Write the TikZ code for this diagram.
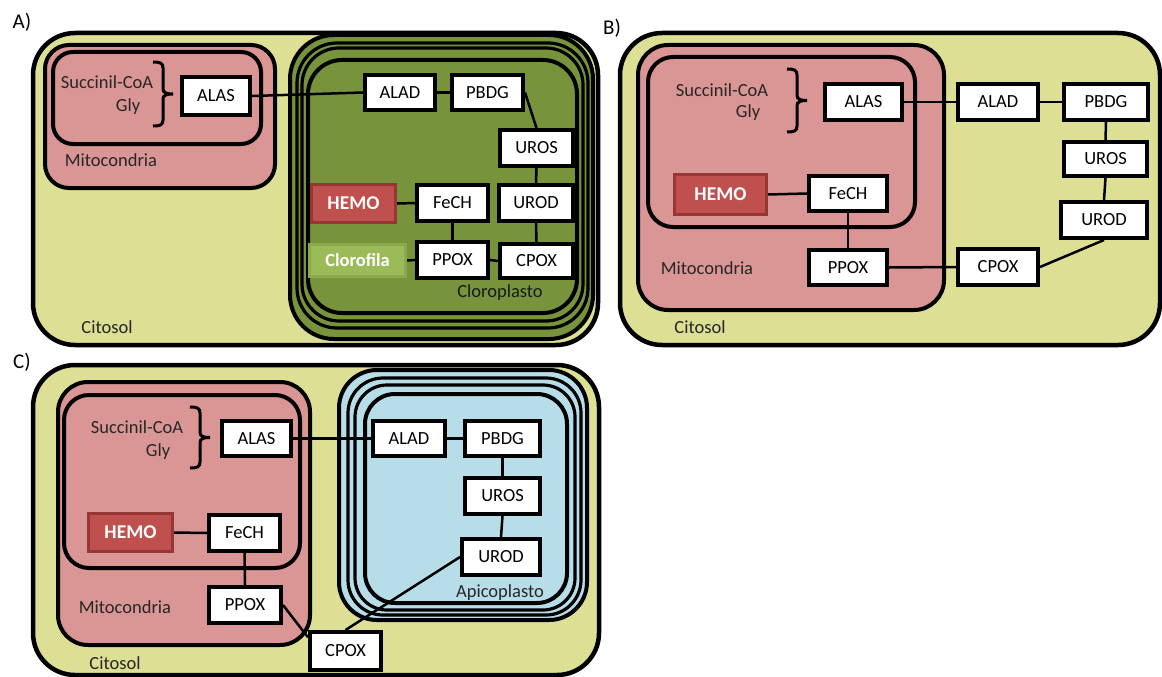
\documentclass[tikz,border=0pt]{standalone}
\usepackage{fontspec}
\setmainfont{Carlito}
\pgfdeclarelayer{back}\pgfdeclarelayer{mid}
\pgfsetlayers{back,mid,main}
\definecolor{cyto}{RGB}{221,223,148}
\definecolor{mito}{RGB}{217,150,148}
\definecolor{chlo}{RGB}{119,147,60}
\definecolor{apico}{RGB}{183,221,232}
\definecolor{hemofill}{RGB}{192,80,77}
\definecolor{hemoline}{RGB}{150,55,53}
\definecolor{clofill}{RGB}{155,187,89}
\definecolor{cloline}{RGB}{138,168,78}
\tikzset{
 enz/.style={draw=black, line width=4pt, fill=white, inner sep=0pt, font=\fontsize{18.5}{21}\selectfont, text=black},
 hemo/.style={draw=hemoline, line width=3pt, fill=hemofill, inner sep=0pt, text=white, font=\fontsize{19.5}{22}\selectfont\bfseries},
 clor/.style={draw=cloline, line width=3pt, fill=clofill, inner sep=0pt, text=white, font=\fontsize{18.5}{21}\selectfont\bfseries},
 lbl/.style={inner sep=0pt, font=\fontsize{18.5}{21}\selectfont, text=black!85},
 memb/.style={draw=black, line width=4pt},
 ring/.style={draw=black, line width=3.2pt},
 link/.style={draw=black, line width=2.5pt},
 brc/.style={draw=black, line width=3pt},
 panel/.style={inner sep=0pt, font=\fontsize{21}{24}\selectfont}
}
\newcommand\mybrace[3]{%
 \draw[brc] (#1,#2) .. controls ({#1+7},#2) and ({#1+10},{#2+1}) .. ({#1+10},{#2+6})
  -- ({#1+10},{(#2+#3)/2-5}) .. controls ({#1+10},{(#2+#3)/2-1}) and ({#1+14},{(#2+#3)/2}) .. ({#1+20},{(#2+#3)/2})
  .. controls ({#1+14},{(#2+#3)/2}) and ({#1+10},{(#2+#3)/2+1}) .. ({#1+10},{(#2+#3)/2+5})
  -- ({#1+10},{#3-6}) .. controls ({#1+10},{#3-1}) and ({#1+7},#3) .. (#1,#3);}
\begin{document}
\begin{tikzpicture}[x=1pt,y=-1pt]
\useasboundingbox (0,0) rectangle (1162,677);
% ---------------- Panel A ----------------
\node[panel] (labA) at (22,22) {A)};
\begin{pgfonlayer}{back}
\draw[memb, fill=cyto, line width=4.5pt, rounded corners=42pt] (33,33) rectangle (598,345);
\draw[memb, fill=mito, rounded corners=24pt] (45,45) rectangle (275,188);
\draw[memb, rounded corners=20pt] (53,52) rectangle (261,144);
\draw[memb, fill=chlo, rounded corners=44pt] (290,35) rectangle (593,339);
\draw[ring, rounded corners=40pt] (297,43) rectangle (588,328);
\draw[ring, rounded corners=37pt] (302,48) rectangle (583,321);
\draw[memb, rounded corners=34pt] (308,60) rectangle (577,313);
\end{pgfonlayer}
\node[lbl] (aSuc) at (107,82) {Succinil-CoA};
\node[lbl] (aGly) at (128,107) {Gly};
\mybrace{153}{62}{126}
\node[lbl] (aMito) at (111,160) {Mitocondria};
\node[lbl] (aCito) at (107,327) {Citosol};
\node[lbl, text=black!90] (aClo) at (500,293) {Cloroplasto};
\node[enz, minimum width=68pt, minimum height=38pt] (aALAS) at (216,96) {ALAS};
\node[enz, minimum width=70pt, minimum height=35pt] (aALAD) at (400,92.5) {ALAD};
\node[enz, minimum width=71pt, minimum height=35pt] (aPBDG) at (487.5,92.5) {PBDG};
\node[enz, minimum width=73pt, minimum height=36pt] (aUROS) at (536.5,148) {UROS};
\node[enz, minimum width=74pt, minimum height=36pt] (aUROD) at (536,203) {UROD};
\node[enz, minimum width=71pt, minimum height=36pt] (aFeCH) at (452.5,203) {FeCH};
\node[hemo, minimum width=84pt, minimum height=38pt] (aHEMO) at (353.5,203.5) {HEMO};
\node[enz, minimum width=71pt, minimum height=36pt] (aPPOX) at (452.5,260) {PPOX};
\node[enz, minimum width=73pt, minimum height=34pt] (aCPOX) at (536.5,261) {CPOX};
\node[clor, minimum width=96pt, minimum height=32pt] (aClor) at (357.5,260.5) {Clorofila};
\begin{pgfonlayer}{mid}
\draw[link] (aALAS.east) -- (aALAD.west);
\draw[link] (aALAD.east) -- (aPBDG.west);
\draw[link] (aPBDG.east) -- (aUROS.north);
\draw[link] (aUROS.south) -- (aUROD.north);
\draw[link] (aUROD.south) -- (aCPOX.north);
\draw[link] (aHEMO.east) -- (aFeCH.west);
\draw[link] (aFeCH.south) -- (aPPOX.north);
\draw[link] (aClor.east) -- (aPPOX.west);
\draw[link] (aPPOX.east) -- (aCPOX.west);
\end{pgfonlayer}
% ---------------- Panel B ----------------
\node[panel] (labB) at (612,28) {B)};
\begin{pgfonlayer}{back}
\draw[memb, fill=cyto, line width=4.5pt, rounded corners=42pt] (620,33) rectangle (1160,345);
\draw[memb, fill=mito, rounded corners=30pt] (638,45) rectangle (944,310);
\draw[memb, rounded corners=25pt] (648,57) rectangle (915,227);
\end{pgfonlayer}
\node[lbl] (bSuc) at (722,90) {Succinil-CoA};
\node[lbl] (bGly) at (748,113) {Gly};
\mybrace{787}{69}{132}
\node[lbl] (bMito) at (707,268) {Mitocondria};
\node[lbl] (bCito) at (700,327) {Citosol};
\node[enz, minimum width=77pt, minimum height=36pt] (bALAS) at (863.5,102) {ALAS};
\node[enz, minimum width=80pt, minimum height=36pt] (bALAD) at (998,102) {ALAD};
\node[enz, minimum width=84pt, minimum height=36pt] (bPBDG) at (1106,102) {PBDG};
\node[enz, minimum width=83pt, minimum height=34pt] (bUROS) at (1105.5,159) {UROS};
\node[enz, minimum width=86pt, minimum height=36pt] (bUROD) at (1104,220) {UROD};
\node[enz, minimum width=80pt, minimum height=36pt] (bCPOX) at (998,267) {CPOX};
\node[enz, minimum width=78pt, minimum height=35pt] (bPPOX) at (848,267.5) {PPOX};
\node[enz, minimum width=78pt, minimum height=35pt] (bFeCH) at (848,193.5) {FeCH};
\node[hemo, minimum width=92pt, minimum height=40pt] (bHEMO) at (720.5,194.5) {HEMO};
\begin{pgfonlayer}{mid}
\draw[link] (bALAS.east) -- (bALAD.west);
\draw[link] (bALAD.east) -- (bPBDG.west);
\draw[link] (bPBDG.south) -- (bUROS.north);
\draw[link] (bUROS.south) -- (bUROD.north);
\draw[link] (bUROD.south) -- (bCPOX.east);
\draw[link] (bCPOX.west) -- (bPPOX.east);
\draw[link] (bFeCH.south) -- (bPPOX.north);
\draw[link] (bHEMO.east) -- (bFeCH.west);
\end{pgfonlayer}
% ---------------- Panel C ----------------
\node[panel] (labC) at (22,362) {C)};
\begin{pgfonlayer}{back}
\draw[memb, fill=cyto, line width=4.5pt, rounded corners=42pt] (33,365) rectangle (599,675);
\draw[memb, fill=mito, rounded corners=30pt] (58,382) rectangle (310,645);
\draw[memb, rounded corners=25pt] (64,395) rectangle (300,568);
\draw[memb, fill=apico, rounded corners=38pt] (339,370) rectangle (587,620);
\draw[ring, rounded corners=35pt] (348,378) rectangle (581,615);
\draw[ring, rounded corners=32pt] (355,385) rectangle (575,610);
\draw[memb, rounded corners=30pt] (365,394) rectangle (567,603);
\end{pgfonlayer}
\node[lbl] (cSuc) at (137,427) {Succinil-CoA};
\node[lbl] (cGly) at (158,452) {Gly};
\mybrace{190}{407}{468}
\node[lbl] (cMito) at (125,607) {Mitocondria};
\node[lbl] (cCito) at (115,663) {Citosol};
\node[lbl] (cApi) at (500,593) {Apicoplasto};
\node[enz, minimum width=69pt, minimum height=35pt] (cALAS) at (256.5,438.5) {ALAS};
\node[enz, minimum width=72pt, minimum height=35pt] (cALAD) at (409,438.5) {ALAD};
\node[enz, minimum width=75pt, minimum height=35pt] (cPBDG) at (502.5,438.5) {PBDG};
\node[enz, minimum width=75pt, minimum height=36pt] (cUROS) at (502.5,496) {UROS};
\node[enz, minimum width=78pt, minimum height=36pt] (cUROD) at (501,557) {UROD};
\node[enz, minimum width=71pt, minimum height=38pt] (cCPOX) at (345.5,651) {CPOX};
\node[enz, minimum width=71pt, minimum height=36pt] (cFeCH) at (244.5,533) {FeCH};
\node[enz, minimum width=72pt, minimum height=36pt] (cPPOX) at (245,605) {PPOX};
\node[hemo, minimum width=84pt, minimum height=38pt] (cHEMO) at (130.5,532.5) {HEMO};
\begin{pgfonlayer}{mid}
\draw[link] (cALAS.east) -- (cALAD.west);
\draw[link] (cALAD.east) -- (cPBDG.west);
\draw[link] (cPBDG.south) -- (cUROS.north);
\draw[link] (cUROS.south) -- (cUROD.north);
\draw[link] (cUROD.west) -- (cCPOX.north);
\draw[link] (cPPOX.east) -- (cCPOX.160);
\draw[link] (cFeCH.south) -- (cPPOX.north);
\draw[link] (cHEMO.east) -- (cFeCH.west);
\end{pgfonlayer}
\end{tikzpicture}
\end{document}
